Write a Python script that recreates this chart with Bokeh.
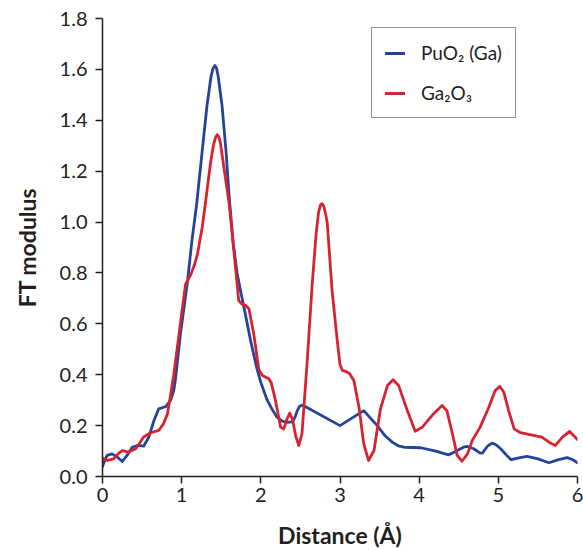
from bokeh.plotting import figure
from bokeh.models import Range1d, FixedTicker, PrintfTickFormatter, Legend, LegendItem
from bokeh.embed import file_html
from bokeh.resources import INLINE

# PuO2 (Ga) series
puo2_x = [0.00, 0.03, 0.06, 0.12, 0.19, 0.25, 0.31, 0.375, 0.44, 0.52, 0.585, 0.65, 0.71, 0.80,
          0.86, 0.90, 0.92, 0.985, 1.07, 1.13, 1.19, 1.24, 1.32, 1.37, 1.395, 1.42, 1.44, 1.46,
          1.51, 1.56, 1.60, 1.65, 1.70, 1.75, 1.80, 1.87, 1.95, 2.00, 2.08, 2.15, 2.205, 2.27,
          2.33, 2.39, 2.415, 2.44, 2.46, 2.49, 2.52, 2.56, 3.00, 3.30, 3.47, 3.57, 3.66, 3.74,
          3.81, 4.02, 4.21, 4.37, 4.44, 4.50, 4.56, 4.61, 4.69, 4.77, 4.80, 4.86, 4.92, 4.97,
          5.03, 5.10, 5.16, 5.26, 5.36, 5.49, 5.64, 5.76, 5.87, 5.94, 6.00]
puo2_y = [0.039, 0.065, 0.083, 0.089, 0.076, 0.059, 0.083, 0.115, 0.122, 0.119, 0.155, 0.220,
          0.266, 0.275, 0.299, 0.338, 0.377, 0.561, 0.757, 0.928, 1.072, 1.222, 1.458, 1.570,
          1.603, 1.615, 1.605, 1.575, 1.458, 1.280, 1.100, 0.920, 0.800, 0.720, 0.645, 0.535,
          0.425, 0.370, 0.300, 0.260, 0.233, 0.218, 0.213, 0.215, 0.222, 0.240, 0.259, 0.276,
          0.280, 0.275, 0.200, 0.259, 0.200, 0.160, 0.135, 0.120, 0.115, 0.113, 0.100, 0.085,
          0.095, 0.105, 0.115, 0.118, 0.109, 0.092, 0.093, 0.118, 0.131, 0.125, 0.109, 0.085,
          0.066, 0.073, 0.079, 0.070, 0.054, 0.066, 0.074, 0.066, 0.054]

# Ga2O3 series
ga2o3_x = [0.00, 0.06, 0.14, 0.20, 0.25, 0.33, 0.42, 0.52, 0.61, 0.71, 0.77, 0.82, 0.86, 0.90,
           0.94, 1.00, 1.05, 1.11, 1.16, 1.20, 1.26, 1.30, 1.36, 1.40, 1.425, 1.45, 1.47, 1.49,
           1.53, 1.60, 1.68, 1.72, 1.76, 1.81, 1.85, 1.91, 1.975, 2.02, 2.10, 2.13, 2.185, 2.25,
           2.29, 2.33, 2.365, 2.40, 2.44, 2.48, 2.52, 2.585, 2.65, 2.70, 2.73, 2.755, 2.775,
           2.795, 2.82, 2.84, 2.90, 2.965, 3.00, 3.03, 3.08, 3.12, 3.175, 3.24, 3.30, 3.36, 3.43,
           3.51, 3.60, 3.67, 3.74, 3.85, 3.95, 4.04, 4.18, 4.29, 4.35, 4.42, 4.48, 4.54, 4.61,
           4.67, 4.77, 4.88, 4.96, 5.02, 5.07, 5.13, 5.20, 5.28, 5.55, 5.64, 5.72, 5.81, 5.90,
           5.95, 6.00]
ga2o3_y = [0.073, 0.063, 0.069, 0.090, 0.102, 0.096, 0.109, 0.155, 0.172, 0.181, 0.207, 0.246,
           0.320, 0.400, 0.495, 0.640, 0.757, 0.790, 0.830, 0.875, 0.980, 1.075, 1.222, 1.300,
           1.330, 1.343, 1.335, 1.310, 1.222, 1.072, 0.823, 0.692, 0.678, 0.672, 0.659, 0.561,
           0.420, 0.397, 0.384, 0.370, 0.299, 0.194, 0.187, 0.225, 0.249, 0.225, 0.160, 0.122,
           0.168, 0.450, 0.760, 0.960, 1.040, 1.068, 1.072, 1.062, 1.030, 0.993, 0.731, 0.535,
           0.440, 0.417, 0.412, 0.405, 0.377, 0.272, 0.128, 0.063, 0.102, 0.265, 0.358, 0.380,
           0.358, 0.259, 0.178, 0.194, 0.246, 0.279, 0.259, 0.168, 0.083, 0.060, 0.089, 0.141,
           0.194, 0.272, 0.338, 0.354, 0.331, 0.259, 0.187, 0.172, 0.155, 0.135, 0.122, 0.155,
           0.177, 0.161, 0.145]

x_ticks = [0, 1, 2, 3, 4, 5, 6]
y_ticks = [0.0, 0.2, 0.4, 0.6, 0.8, 1.0, 1.2, 1.4, 1.6, 1.8]
series_names = ["PuO\u2082 (Ga)", "Ga\u2082O\u2083"]
series_colors = ["#24449c", "#d7232f"]

FONT = "Lato"
INK = "#231f20"

p = figure(width=583, height=550, frame_width=475, frame_height=458,
           x_range=Range1d(0, 6), y_range=Range1d(0, 1.8),
           output_backend="svg", toolbar_location=None,
           min_border_left=102, min_border_right=6, min_border_top=18, min_border_bottom=74)
p.outline_line_color = None
p.xgrid.visible = False
p.ygrid.visible = False
p.background_fill_color = "white"
p.border_fill_color = "white"

r1 = p.line(puo2_x, puo2_y, line_color=series_colors[0], line_width=2.8,
            line_join="round", line_cap="round")
r2 = p.line(ga2o3_x, ga2o3_y, line_color=series_colors[1], line_width=2.8,
            line_join="round", line_cap="round")

for ax in (p.xaxis[0], p.yaxis[0]):
    ax.axis_line_color = INK
    ax.axis_line_width = 1.5
    ax.major_tick_line_color = INK
    ax.major_tick_line_width = 1.5
    ax.major_tick_out = 7
    ax.major_tick_in = 0
    ax.minor_tick_line_color = None
    ax.major_label_text_font = FONT
    ax.major_label_text_font_size = "20px"
    ax.major_label_text_color = INK
    ax.axis_label_text_font = FONT
    ax.axis_label_text_font_size = "23px"
    ax.axis_label_text_font_style = "bold"
    ax.axis_label_text_color = INK

p.xaxis.ticker = FixedTicker(ticks=x_ticks)
p.yaxis.ticker = FixedTicker(ticks=y_ticks)
p.yaxis.formatter = PrintfTickFormatter(format="%.1f")
p.xaxis.axis_label = "Distance (\u00c5)"
p.yaxis.axis_label = "FT modulus"
p.xaxis.major_label_standoff = 4
p.yaxis.major_label_standoff = 8
p.xaxis.axis_label_standoff = 16
p.yaxis.axis_label_standoff = 16

legend = Legend(items=[LegendItem(label=series_names[0], renderers=[r1]),
                       LegendItem(label=series_names[1], renderers=[r2])],
                location=(269, 358))
legend.border_line_color = INK
legend.border_line_width = 1.3
legend.background_fill_alpha = 1
legend.label_text_font = FONT
legend.label_text_font_size = "19px"
legend.label_text_color = INK
legend.glyph_width = 20
legend.glyph_height = 18
legend.label_height = 18
legend.label_standoff = 16
legend.spacing = 17
legend.padding = 13
legend.margin = 0
p.add_layout(legend, "center")

open("out.html", "w").write(file_html(p, INLINE))
